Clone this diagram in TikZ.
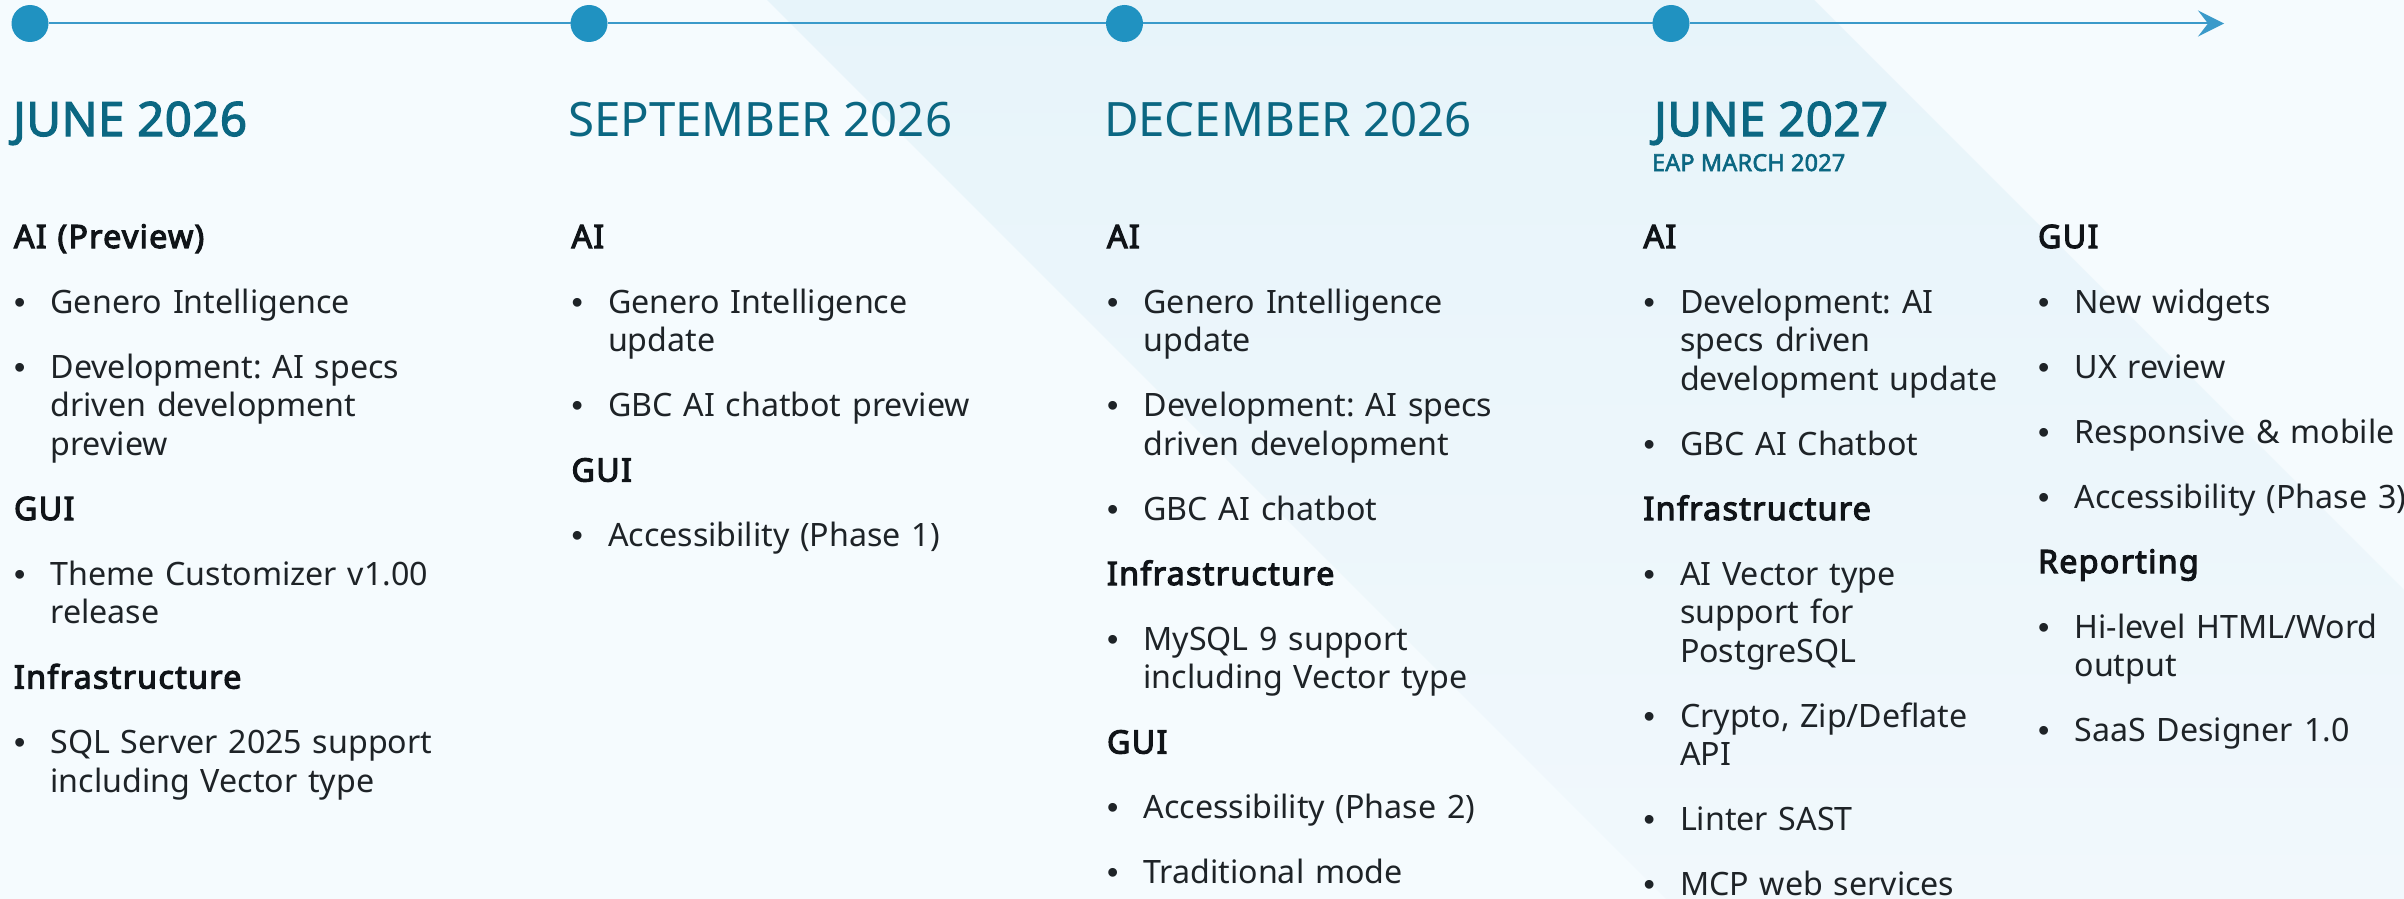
\documentclass[tikz,border=0pt]{standalone}
\usepackage{fontspec}
\setmainfont{Noto Sans}[BoldFont={Noto Sans}, BoldFeatures={FakeBold=3.5, LetterSpace=4}]
\newfontfamily\monthbold{Noto Sans}[FakeBold=2.5, LetterSpace=1]
\newfontfamily\bulletfont{Liberation Sans}
\usepackage{tikz}
\usetikzlibrary{positioning, arrows.meta}
\definecolor{pagebg}{HTML}{F5FBFE}
\definecolor{bandtop}{HTML}{E7F4FA}
\definecolor{bandbottom}{HTML}{F1F8FC}
\definecolor{dotblue}{HTML}{2092C1}
\definecolor{lineblue}{HTML}{3A9ACA}
\definecolor{monthteal}{HTML}{0B6782}
\definecolor{topicblack}{HTML}{101418}
\definecolor{entrygray}{HTML}{1E2327}
\frenchspacing

\begin{document}
\begin{tikzpicture}[x=0.5pt, y=-0.5pt, node distance=13.25pt,
every node/.style={inner sep=0pt, outer sep=0pt},
dot/.style={circle, fill=dotblue, minimum size=18.5pt},
timeline/.style={draw=lineblue, line width=1pt},
month/.style={anchor=base west, text=monthteal, font=\fontsize{23.7}{28}\selectfont},
eap/.style={anchor=base west, text=monthteal, font=\monthbold\fontsize{11.7}{14}\selectfont},
topic/.style={text width=#1, align=left, text=topicblack,
font=\bfseries\fontsize{16.1}{19.25}\selectfont,
execute at begin node=\strut, execute at end node=\strut},
entry/.style={topic=#1, text=entrygray, font=\fontsize{16.1}{19.25}\selectfont,
execute at begin node={\strut\leftskip=18.25pt\llap{\makebox[18.25pt][l]{\bulletfont\textbullet}}}}]

\useasboundingbox (0,0) rectangle (2404,899);
\fill[pagebg] (0,0) rectangle (2404,899);
\shade[top color=bandtop, bottom color=bandbottom]
(767,0) -- (1814,0) -- (2404,590) -- (2404,899) -- (1666,899) -- cycle;

\node (dot1) [dot] at (30,23.5) {};
\node (dot2) [dot] at (589,23.5) {};
\node (dot3) [dot] at (1124.5,23.5) {};
\node (dot4) [dot] at (1671,23.5) {};
\coordinate (tip) at (2224,23.5);
\draw[timeline] (dot1) -- (dot2);
\draw[timeline] (dot2) -- (dot3);
\draw[timeline] (dot3) -- (dot4);
\draw[timeline, -{Stealth[length=13pt, width=13pt, inset=5pt]}] (dot4) -- (tip);

\node (jun26) [month] at (13,136) {\monthbold JUNE 2026};
\node (sep26) [month] at (568,136) {SEPTEMBER 2026};
\node (dec26) [month] at (1104,136) {DECEMBER 2026};
\node (jun27) [month] at (1654,136) {\monthbold JUNE 2027};
\node (eap27) [eap] at (1652,171) {EAP MARCH 2027};

\node (jun-ai) [topic=210pt, anchor=base west] at (14,248) {AI (Preview)};
\node (jun-genero) [entry=210pt, below=of jun-ai] {Genero Intelligence};
\node (jun-specs) [entry=210pt, below=of jun-genero]
{Development: AI specs\\driven development\\preview};
\node (jun-gui) [topic=210pt, below=of jun-specs] {GUI};
\node (jun-theme) [entry=210pt, below=of jun-gui] {Theme Customizer v1.00\\release};
\node (jun-infra) [topic=210pt, below=of jun-theme] {Infrastructure};
\node (jun-sql) [entry=210pt, below=of jun-infra]
{SQL Server 2025 support\\including Vector type};

\node (sep-ai) [topic=210pt, anchor=base west] at (571.5,248) {AI};
\node (sep-genero) [entry=210pt, below=of sep-ai] {Genero Intelligence\\update};
\node (sep-chat) [entry=210pt, below=of sep-genero] {GBC AI chatbot preview};
\node (sep-gui) [topic=210pt, below=of sep-chat] {GUI};
\node (sep-access) [entry=210pt, below=of sep-gui] {Accessibility (Phase 1)};

\node (dec-ai) [topic=210pt, anchor=base west] at (1107,248) {AI};
\node (dec-genero) [entry=210pt, below=of dec-ai] {Genero Intelligence\\update};
\node (dec-specs) [entry=210pt, below=of dec-genero]
{Development: AI specs\\driven development};
\node (dec-chat) [entry=210pt, below=of dec-specs] {GBC AI chatbot};
\node (dec-infra) [topic=210pt, below=of dec-chat] {Infrastructure};
\node (dec-mysql) [entry=210pt, below=of dec-infra]
{MySQL 9 support\\including Vector type};
\node (dec-gui) [topic=210pt, below=of dec-mysql] {GUI};
\node (dec-access) [entry=210pt, below=of dec-gui] {Accessibility (Phase 2)};
\node (dec-trad) [entry=210pt, below=of dec-access] {Traditional mode};

\node (jun7-ai) [topic=185pt, anchor=base west] at (1643.5,248) {AI};
\node (jun7-specs) [entry=185pt, below=of jun7-ai]
{Development: AI\\specs driven\\development update};
\node (jun7-chat) [entry=185pt, below=of jun7-specs] {GBC AI Chatbot};
\node (jun7-infra) [topic=185pt, below=of jun7-chat] {Infrastructure};
\node (jun7-vector) [entry=185pt, below=of jun7-infra]
{AI Vector type\\support for\\PostgreSQL};
\node (jun7-crypto) [entry=185pt, below=of jun7-vector] {Crypto, Zip/Deflate\\API};
\node (jun7-linter) [entry=185pt, below=of jun7-crypto] {Linter SAST};
\node (jun7-mcp) [entry=185pt, below=of jun7-linter] {MCP web services};

\node (jun7-gui) [topic=192pt, anchor=base west] at (2038,248) {GUI};
\node (jun7-widgets) [entry=192pt, below=of jun7-gui] {New widgets};
\node (jun7-ux) [entry=192pt, below=of jun7-widgets] {UX review};
\node (jun7-mobile) [entry=192pt, below=of jun7-ux] {Responsive \& mobile};
\node (jun7-access) [entry=192pt, below=of jun7-mobile] {Accessibility (Phase 3)};
\node (jun7-report) [topic=192pt, below=of jun7-access] {Reporting};
\node (jun7-html) [entry=192pt, below=of jun7-report] {Hi-level HTML/Word\\output};
\node (jun7-saas) [entry=192pt, below=of jun7-html] {SaaS Designer 1.0};
\end{tikzpicture}
\end{document}
